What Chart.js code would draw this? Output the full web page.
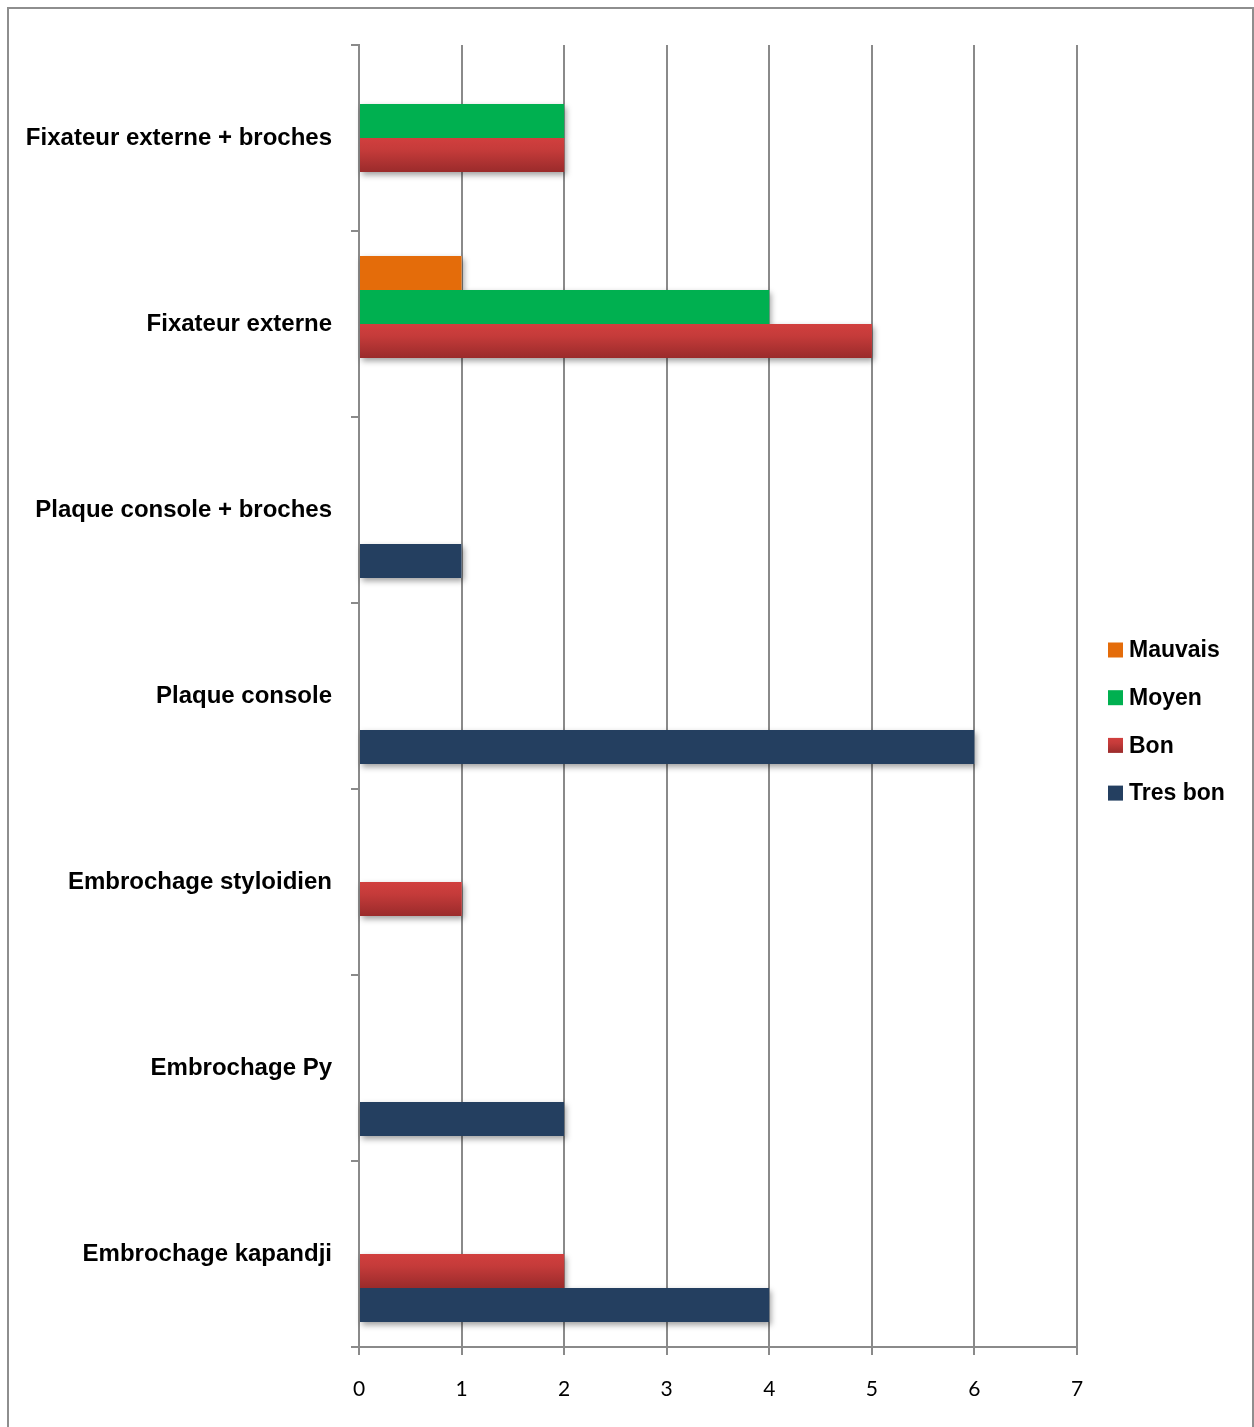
<!DOCTYPE html>
<html>
<head>
<meta charset="utf-8">
<script src="https://cdn.jsdelivr.net/npm/chart.js@4/dist/chart.umd.min.js"></script>
<style>
  html, body { margin: 0; padding: 0; background: #ffffff; }
  #wrap { position: relative; width: 1254px; height: 1427px; overflow: hidden; }
  #frame { position: absolute; left: 7px; top: 7px; width: 1243px; height: 1440px;
           border: 2px solid #8e8e8e; border-bottom: none; }
  #chart { position: absolute; left: 0; top: 0; }
</style>
</head>
<body>
<div id="wrap">
  <div id="frame"></div>
  <canvas id="chart" width="1254" height="1427"></canvas>
</div>
<script>
// Treatment methods and the number of results in each grade
const categories = [
  'Fixateur externe + broches',
  'Fixateur externe',
  'Plaque console + broches',
  'Plaque console',
  'Embrochage styloidien',
  'Embrochage Py',
  'Embrochage kapandji'
];
const mauvais = [null, 1, null, null, null, null, null];
const moyen   = [2, 4, null, null, null, null, null];
const bon     = [2, 5, null, null, 1, null, 2];
const tresBon = [null, null, 1, 6, null, 2, 4];
const seriesNames = ['Mauvais', 'Moyen', 'Bon', 'Tres bon'];
const xTicks = [0, 1, 2, 3, 4, 5, 6, 7];

const ORANGE = '#e46c0a';
const GREEN = '#00b050';
const RED_TOP = '#d13f3e';
const RED_BOTTOM = '#9a2b2b';
const NAVY = '#243f60';
const GRID = '#8a8a8a';

function redGradient(ctx, y0, y1) {
  const g = ctx.createLinearGradient(0, y0, 0, y1);
  g.addColorStop(0, RED_TOP);
  g.addColorStop(0.35, '#c53b3a');
  g.addColorStop(1, RED_BOTTOM);
  return g;
}

function barRect(el) {
  return {
    left: Math.min(el.base, el.x),
    top: el.y - el.height / 2,
    w: Math.abs(el.x - el.base),
    h: el.height
  };
}

// Soft drop shadow under every bar, drawn before the bars themselves
const barShadow = {
  id: 'barShadow',
  beforeDatasetsDraw(chart) {
    const ctx = chart.ctx;
    ctx.save();
    ctx.shadowColor = 'rgba(0,0,0,0.38)';
    ctx.shadowBlur = 6;
    ctx.shadowOffsetX = 2;
    ctx.shadowOffsetY = 3;
    chart.data.datasets.forEach((ds, i) => {
      chart.getDatasetMeta(i).data.forEach((el, j) => {
        if (ds.data[j] == null) return;
        const r = barRect(el);
        ctx.fillStyle = '#ffffff';
        ctx.fillRect(r.left, r.top, r.w, r.h);
      });
    });
    ctx.restore();
  },
  // the "Bon" bars are shaded with a vertical red gradient
  afterDatasetDraw(chart, args) {
    const ds = chart.data.datasets[args.index];
    if (ds.label !== 'Bon') return;
    const ctx = chart.ctx;
    ctx.save();
    args.meta.data.forEach((el, j) => {
      if (ds.data[j] == null) return;
      const r = barRect(el);
      ctx.fillStyle = redGradient(ctx, r.top, r.top + r.h);
      ctx.fillRect(r.left, r.top, r.w, r.h);
    });
    ctx.restore();
  }
};

// Legend at the right, one row per series
const sideLegend = {
  id: 'sideLegend',
  afterDraw(chart) {
    const ctx = chart.ctx;
    const x = 1108, box = 15, startY = 650, step = 47.7;
    ctx.save();
    ctx.font = 'bold 23px "Liberation Sans", Arial, sans-serif';
    ctx.textBaseline = 'middle';
    ctx.textAlign = 'left';
    chart.data.datasets.forEach((ds, i) => {
      const cy = startY + i * step;
      ctx.fillStyle = ds.label === 'Bon' ? redGradient(ctx, cy - box / 2, cy + box / 2) : ds.backgroundColor;
      ctx.fillRect(x, cy - box / 2, box, box);
      ctx.fillStyle = '#000000';
      ctx.fillText(ds.label, x + 21, cy + 1);
    });
    ctx.restore();
  }
};

new Chart(document.getElementById('chart'), {
  type: 'bar',
  data: {
    labels: categories,
    datasets: [
      { label: seriesNames[0], data: mauvais, backgroundColor: ORANGE },
      { label: seriesNames[1], data: moyen, backgroundColor: GREEN },
      { label: seriesNames[2], data: bon, backgroundColor: RED_TOP },
      { label: seriesNames[3], data: tresBon, backgroundColor: NAVY }
    ]
  },
  options: {
    indexAxis: 'y',
    responsive: false,
    devicePixelRatio: 1,
    animation: false,
    layout: { padding: { left: 0, top: 45, right: 177, bottom: 0 } },
    datasets: {
      bar: { categoryPercentage: 0.731, barPercentage: 1.0, borderWidth: 0 }
    },
    plugins: {
      legend: { display: false },
      tooltip: { enabled: false }
    },
    scales: {
      x: {
        type: 'linear',
        min: xTicks[0],
        max: xTicks[xTicks.length - 1],
        afterFit(scale) { scale.height = 80; },
        afterBuildTicks(scale) { scale.ticks = xTicks.map(v => ({ value: v })); },
        border: { color: GRID, width: 2 },
        grid: { color: GRID, lineWidth: 2, drawTicks: true, tickLength: 8, tickColor: GRID },
        ticks: {
          color: '#000000',
          padding: 22,
          font: { family: 'Lato, "Open Sans", sans-serif', size: 21 }
        }
      },
      y: {
        afterFit(scale) { scale.width = 359; },
        border: { color: GRID, width: 2 },
        grid: { drawOnChartArea: false, drawTicks: true, tickLength: 8, tickColor: GRID, lineWidth: 2, offset: true },
        ticks: {
          color: '#000000',
          padding: 19,
          font: { family: '"Liberation Sans", Arial, sans-serif', size: 24, weight: 'bold' }
        }
      }
    }
  },
  plugins: [barShadow, sideLegend]
});
</script>
</body>
</html>
